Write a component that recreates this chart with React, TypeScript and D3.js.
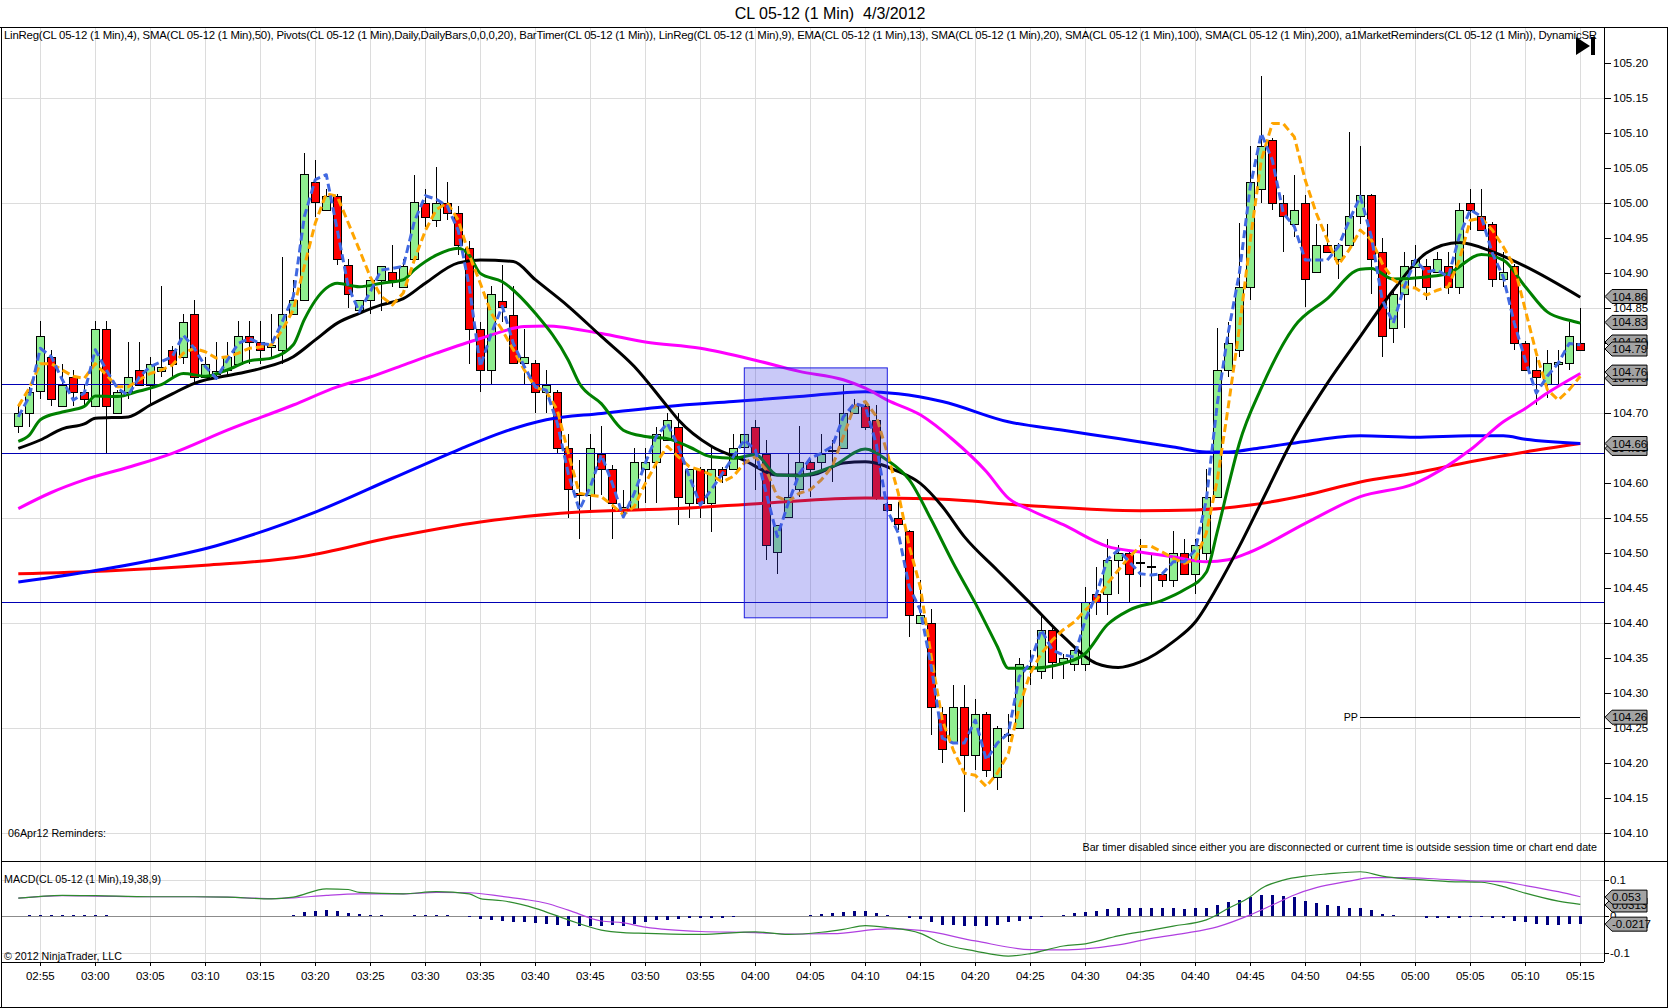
import React from "react";
import * as d3 from "d3";

const FONT = "'Liberation Sans', Arial, Helvetica, sans-serif";

const timeLabels = ["02:55","03:00","03:05","03:10","03:15","03:20","03:25","03:30","03:35","03:40","03:45","03:50","03:55","04:00","04:05","04:10","04:15","04:20","04:25","04:30","04:35","04:40","04:45","04:50","04:55","05:00","05:05","05:10","05:15"];
const firstLabelBar = 2;
const barsPerLabel = 5;

const priceTicks = [104.10,104.15,104.20,104.25,104.30,104.35,104.40,104.45,104.50,104.55,104.60,104.65,104.70,104.75,104.80,104.85,104.90,104.95,105.00,105.05,105.10,105.15,105.20];
const priceGrid = [104.10,104.25,104.40,104.55,104.70,104.85,105.00,105.15];
const macdTicks = [-0.1, 0, 0.1];

const opens = [104.681,104.700,104.731,104.780,104.710,104.751,104.730,104.710,104.820,104.700,104.730,104.761,104.740,104.760,104.790,104.780,104.841,104.751,104.755,104.761,104.770,104.810,104.801,104.794,104.790,104.841,104.861,105.030,104.990,105.010,104.911,104.847,104.861,104.890,104.901,104.880,104.920,105.000,104.975,105.000,104.985,104.935,104.820,104.761,104.860,104.840,104.771,104.771,104.730,104.730,104.650,104.585,104.582,104.641,104.620,104.563,104.563,104.620,104.630,104.661,104.680,104.571,104.620,104.571,104.620,104.620,104.651,104.680,104.641,104.501,104.551,104.591,104.630,104.630,104.645,104.650,104.700,104.710,104.690,104.570,104.550,104.531,104.400,104.400,104.270,104.230,104.280,104.211,104.270,104.180,104.240,104.250,104.335,104.331,104.390,104.344,104.341,104.341,104.441,104.441,104.490,104.500,104.485,104.480,104.470,104.461,104.500,104.470,104.500,104.580,104.761,104.790,104.880,105.020,105.090,105.000,104.970,105.000,104.901,104.940,104.920,104.940,104.981,105.011,104.930,104.821,104.870,104.908,104.910,104.901,104.910,104.880,105.000,104.981,104.970,104.891,104.910,104.800,104.761,104.741,104.770,104.771,104.800];
const highs = [104.709,104.737,104.831,104.790,104.770,104.761,104.740,104.831,104.831,104.733,104.801,104.801,104.780,104.881,104.795,104.841,104.861,104.780,104.801,104.801,104.831,104.831,104.831,104.841,104.922,104.890,105.071,105.061,105.020,105.012,104.920,104.861,104.890,104.910,104.940,104.920,105.040,105.020,105.051,105.030,104.995,104.945,104.830,104.881,104.911,104.881,104.820,104.775,104.761,104.733,104.670,104.632,104.670,104.681,104.625,104.590,104.650,104.650,104.680,104.700,104.700,104.620,104.622,104.650,104.622,104.670,104.670,104.690,104.661,104.540,104.642,104.681,104.632,104.670,104.661,104.740,104.720,104.715,104.711,104.572,104.573,104.533,104.461,104.420,104.280,104.311,104.311,104.291,104.272,104.252,104.270,104.350,104.361,104.411,104.392,104.355,104.365,104.451,104.480,104.520,104.511,104.502,104.520,104.499,104.472,104.531,104.520,104.520,104.620,104.821,104.830,104.971,105.081,105.181,105.092,105.011,105.040,105.011,104.970,104.970,104.942,105.101,105.081,105.013,104.950,104.872,104.930,104.940,104.920,104.930,104.930,105.000,105.020,105.020,104.972,104.930,104.912,104.802,104.780,104.790,104.790,104.830,104.850];
const lows = [104.671,104.680,104.720,104.710,104.708,104.710,104.710,104.708,104.642,104.698,104.720,104.740,104.710,104.751,104.751,104.770,104.740,104.751,104.747,104.751,104.770,104.770,104.770,104.780,104.770,104.840,104.861,104.980,104.990,104.911,104.850,104.847,104.841,104.845,104.880,104.880,104.920,104.965,104.965,104.975,104.925,104.770,104.730,104.741,104.830,104.771,104.741,104.700,104.700,104.641,104.550,104.520,104.561,104.582,104.520,104.549,104.560,104.571,104.571,104.661,104.540,104.550,104.550,104.530,104.600,104.618,104.642,104.590,104.490,104.470,104.549,104.580,104.580,104.620,104.601,104.648,104.698,104.675,104.575,104.558,104.532,104.380,104.398,104.240,104.199,104.228,104.130,104.190,104.180,104.161,104.230,104.248,104.311,104.320,104.320,104.320,104.331,104.331,104.411,104.411,104.441,104.430,104.451,104.430,104.451,104.451,104.468,104.441,104.490,104.578,104.751,104.780,104.861,105.000,104.990,104.930,104.951,104.851,104.899,104.928,104.891,104.938,104.970,104.870,104.780,104.800,104.821,104.880,104.861,104.899,104.870,104.870,104.961,104.959,104.880,104.880,104.790,104.759,104.711,104.721,104.741,104.761,104.788];
const closes = [104.700,104.730,104.810,104.720,104.740,104.730,104.720,104.820,104.710,104.730,104.751,104.740,104.770,104.765,104.770,104.830,104.751,104.770,104.760,104.780,104.810,104.801,104.790,104.796,104.841,104.861,105.041,105.001,105.010,104.920,104.870,104.861,104.890,104.910,104.890,104.910,105.001,104.980,105.000,104.985,104.940,104.820,104.761,104.870,104.851,104.771,104.780,104.730,104.740,104.650,104.591,104.583,104.650,104.620,104.571,104.565,104.630,104.630,104.670,104.690,104.580,104.620,104.571,104.620,104.611,104.650,104.670,104.642,104.511,104.540,104.580,104.630,104.620,104.641,104.647,104.700,104.710,104.680,104.580,104.561,104.541,104.411,104.411,104.280,104.220,104.280,104.211,104.270,104.190,104.250,104.241,104.341,104.338,104.390,104.344,104.350,104.361,104.430,104.430,104.490,104.500,104.470,104.487,104.481,104.461,104.500,104.470,104.511,104.580,104.761,104.800,104.880,105.030,105.081,105.000,104.981,104.990,104.891,104.940,104.930,104.940,104.981,105.011,104.920,104.810,104.870,104.910,104.918,104.880,104.920,104.880,104.990,104.990,104.961,104.891,104.901,104.800,104.761,104.751,104.771,104.772,104.810,104.790];

const linReg4 = [104.694,104.723,104.792,104.780,104.747,104.718,104.728,104.790,104.761,104.735,104.725,104.751,104.766,104.773,104.780,104.811,104.792,104.766,104.749,104.775,104.799,104.806,104.799,104.797,104.830,104.866,104.980,105.033,105.040,104.961,104.880,104.844,104.873,104.904,104.906,104.909,104.973,105.010,105.005,104.995,104.960,104.880,104.766,104.813,104.852,104.799,104.766,104.737,104.732,104.685,104.613,104.561,104.594,104.640,104.599,104.551,104.585,104.628,104.666,104.685,104.652,104.609,104.568,104.590,104.613,104.637,104.661,104.647,104.585,104.523,104.571,104.613,104.635,104.642,104.652,104.694,104.713,104.709,104.655,104.561,104.528,104.451,104.418,104.337,104.235,104.228,104.228,104.261,104.204,104.228,104.242,104.323,104.342,104.390,104.361,104.354,104.351,104.404,104.440,104.490,104.504,104.487,104.470,104.468,104.470,104.487,104.487,104.504,104.575,104.713,104.815,104.899,105.023,105.099,105.061,104.985,104.966,104.918,104.918,104.918,104.937,104.975,105.009,104.952,104.861,104.828,104.880,104.918,104.901,104.904,104.894,104.952,104.990,104.980,104.928,104.894,104.828,104.775,104.728,104.752,104.771,104.799,104.797];
const linReg9 = [104.709,104.735,104.770,104.770,104.761,104.752,104.749,104.770,104.754,104.737,104.737,104.747,104.756,104.761,104.768,104.785,104.792,104.787,104.778,104.780,104.785,104.792,104.794,104.797,104.818,104.847,104.909,104.971,105.013,105.009,104.971,104.933,104.894,104.866,104.854,104.871,104.918,104.960,104.990,105.000,104.975,104.925,104.885,104.842,104.818,104.790,104.761,104.737,104.730,104.704,104.642,104.585,104.582,104.580,104.568,104.554,104.566,104.599,104.628,104.652,104.637,104.623,104.618,104.611,104.601,104.609,104.628,104.637,104.618,104.580,104.573,104.585,104.590,104.604,104.623,104.666,104.709,104.716,104.695,104.642,104.585,104.509,104.451,104.351,104.261,104.218,104.185,104.182,104.166,104.185,104.213,104.280,104.328,104.356,104.375,104.390,104.401,104.418,104.432,104.456,104.475,104.494,104.509,104.509,104.501,104.492,104.485,104.490,104.528,104.604,104.709,104.820,104.947,105.061,105.113,105.113,105.094,105.032,104.985,104.947,104.911,104.933,104.961,104.947,104.913,104.890,104.880,104.878,104.868,104.875,104.880,104.918,104.975,104.978,104.961,104.937,104.909,104.847,104.785,104.733,104.718,104.733,104.752];

const sma200Pts: [number, number][] = [[0,104.470],[8,104.474],[17,104.482],[26,104.495],[34,104.522],[42,104.544],[51,104.558],[60,104.563],[68,104.571],[77,104.578],[83,104.577],[92,104.567],[102,104.560],[107,104.561],[112,104.568],[117,104.582],[122,104.601],[127,104.614],[132,104.630],[137,104.644],[142,104.656]];
const sma100Pts: [number, number][] = [[0,104.458],[8,104.477],[18,104.510],[27,104.558],[34,104.606],[40,104.647],[44,104.672],[48,104.690],[53,104.699],[59,104.709],[65,104.716],[71,104.723],[77,104.730],[80,104.727],[84,104.716],[90,104.687],[95,104.675],[100,104.663],[105,104.651],[108,104.644],[110,104.644],[113,104.650],[117,104.659],[122,104.667],[127,104.665],[132,104.667],[135,104.667],[137,104.662],[142,104.656]];
const sma50Pts: [number, number][] = [[0,104.563],[3,104.586],[6,104.604],[10,104.622],[14,104.642],[19,104.675],[25,104.711],[29,104.737],[32,104.751],[35,104.768],[38,104.785],[42,104.806],[46,104.823],[48,104.824],[53,104.813],[57,104.801],[62,104.792],[67,104.775],[71,104.759],[75,104.747],[77,104.735],[79,104.718],[82,104.697],[85,104.661],[88,104.616],[90,104.578],[92,104.561],[95,104.540],[99,104.509],[102,104.501],[105,104.494],[108,104.487],[110,104.490],[112,104.501],[117,104.542],[122,104.580],[127,104.599],[132,104.647],[135,104.687],[137,104.706],[139,104.728],[142,104.756]];
const sma20Pts: [number, number][] = [[0,104.649],[2,104.661],[4,104.677],[6,104.684],[7,104.692],[10,104.694],[12,104.711],[14,104.727],[16,104.742],[20,104.756],[22,104.763],[25,104.780],[27,104.804],[29,104.828],[31,104.842],[33,104.854],[35,104.863],[37,104.885],[40,104.914],[42,104.918],[45,104.916],[47,104.890],[50,104.852],[53,104.809],[56,104.766],[59,104.709],[60,104.690],[63,104.652],[66,104.632],[69,104.611],[72,104.611],[75,104.628],[77,104.630],[80,104.616],[82,104.599],[84,104.566],[86,104.523],[89,104.475],[92,104.428],[95,104.380],[98,104.342],[100,104.336],[102,104.344],[105,104.373],[107,104.401],[109,104.451],[111,104.509],[113,104.572],[116,104.666],[119,104.742],[122,104.809],[125,104.875],[128,104.928],[131,104.943],[134,104.930],[137,104.909],[142,104.865]];
const ema13Pts: [number, number][] = [[0,104.659],[1,104.668],[2,104.690],[4,104.701],[6,104.709],[7,104.724],[9,104.723],[11,104.731],[13,104.740],[15,104.756],[17,104.752],[19,104.761],[21,104.774],[23,104.778],[25,104.797],[26,104.833],[28,104.878],[29,104.885],[31,104.880],[33,104.885],[35,104.890],[36,104.904],[38,104.925],[40,104.935],[41,104.925],[42,104.899],[44,104.887],[47,104.842],[50,104.775],[51,104.742],[53,104.713],[55,104.675],[57,104.666],[59,104.663],[61,104.651],[63,104.637],[65,104.635],[67,104.640],[69,104.611],[71,104.610],[74,104.623],[77,104.648],[79,104.632],[81,104.604],[83,104.547],[85,104.485],[87,104.428],[89,104.366],[90,104.335],[92,104.335],[95,104.342],[97,104.356],[99,104.397],[101,104.418],[104,104.432],[106,104.447],[108,104.472],[109,104.530],[110,104.595],[111,104.656],[113,104.735],[116,104.823],[119,104.863],[122,104.905],[123,104.906],[125,104.891],[128,104.894],[130,104.899],[133,104.926],[135,104.918],[137,104.880],[139,104.844],[141,104.832],[142,104.828]];

const macdPts: [number, number][] = [[0,0.050],[4,0.058],[7,0.057],[12,0.054],[16,0.054],[19,0.053],[23,0.048],[25,0.053],[28,0.076],[30,0.074],[31,0.066],[35,0.062],[38,0.068],[41,0.062],[42,0.049],[44,0.043],[47,0.022],[50,-0.010],[53,-0.038],[55,-0.045],[57,-0.047],[62,-0.050],[67,-0.043],[70,-0.050],[73,-0.044],[75,-0.036],[77,-0.026],[79,-0.031],[82,-0.047],[84,-0.076],[87,-0.096],[90,-0.110],[92,-0.103],[95,-0.082],[97,-0.076],[100,-0.054],[103,-0.038],[105,-0.027],[108,-0.010],[110,0.022],[112,0.054],[113,0.077],[115,0.100],[117,0.111],[119,0.117],[122,0.123],[124,0.111],[126,0.104],[128,0.100],[130,0.096],[133,0.094],[135,0.082],[137,0.064],[140,0.042],[142,0.033]];
const signalPts: [number, number][] = [[0,0.050],[4,0.057],[7,0.056],[12,0.054],[16,0.054],[19,0.053],[23,0.049],[25,0.051],[28,0.058],[31,0.062],[35,0.062],[38,0.066],[41,0.065],[44,0.055],[46,0.047],[48,0.036],[50,0.017],[53,-0.013],[55,-0.018],[57,-0.030],[62,-0.042],[67,-0.045],[70,-0.049],[74,-0.048],[79,-0.035],[82,-0.039],[87,-0.068],[92,-0.092],[95,-0.093],[97,-0.090],[100,-0.079],[103,-0.061],[106,-0.047],[109,-0.029],[112,0.004],[114,0.031],[116,0.059],[118,0.079],[121,0.097],[123,0.107],[126,0.107],[129,0.103],[132,0.098],[135,0.095],[137,0.085],[140,0.068],[142,0.054]];
const macdHist = [0,0.004,0.004,0.004,0.004,0.004,0.004,0.004,0.004,0,0,0,0,0,0,0.002,0,0,0.002,0.002,0,0,0,0,0,0.003,0.013,0.016,0.018,0.015,0.009,0.006,0.004,0.003,0,0,0.003,0.003,0.003,0.003,0.002,-0.003,-0.007,-0.010,-0.012,-0.015,-0.017,-0.019,-0.021,-0.024,-0.026,-0.027,-0.026,-0.026,-0.025,-0.027,-0.021,-0.017,-0.011,-0.009,-0.008,-0.006,-0.006,-0.005,-0.004,-0.002,-0.001,-0.001,-0.001,-0.001,-0.001,0,0.003,0.006,0.010,0.013,0.015,0.016,0.008,0.004,0.001,-0.004,-0.008,-0.015,-0.024,-0.024,-0.026,-0.026,-0.026,-0.024,-0.017,-0.013,-0.007,-0.002,0.001,0.003,0.008,0.012,0.016,0.019,0.022,0.022,0.022,0.022,0.022,0.022,0.019,0.022,0.022,0.030,0.040,0.045,0.054,0.059,0.058,0.056,0.052,0.042,0.036,0.031,0.029,0.023,0.023,0.017,0.005,0.003,0,-0.001,-0.004,-0.004,-0.006,-0.004,-0.002,-0.002,-0.004,-0.006,-0.012,-0.017,-0.020,-0.023,-0.023,-0.020,-0.022];

const hLines = [104.741, 104.642, 104.429];
const pivotPP = 104.265;
const boxBars = [66, 79];
const boxPrices = [104.407, 104.764];

const priceTags: [number, string][] = [[104.866,"104.86"],[104.829,"104.83"],[104.801,"104.80"],[104.791,"104.79"],[104.749,"104.75"],[104.758,"104.76"],[104.649,"104.65"],[104.656,"104.66"],[104.265,"104.26"]];
const macdTags: [number, string][] = [[0.0313,"0.0313"],[0.053,"0.053"],[-0.0217,"-0.0217"]];

const legendText = "LinReg(CL 05-12 (1 Min),4), SMA(CL 05-12 (1 Min),50), Pivots(CL 05-12 (1 Min),Daily,DailyBars,0,0,0,20), BarTimer(CL 05-12 (1 Min)), LinReg(CL 05-12 (1 Min),9), EMA(CL 05-12 (1 Min),13), SMA(CL 05-12 (1 Min),20), SMA(CL 05-12 (1 Min),100), SMA(CL 05-12 (1 Min),200), a1MarketReminders(CL 05-12 (1 Min)), DynamicSR";
const titleText = "CL 05-12 (1 Min)\u00a0\u00a04/3/2012";

const W = 1668, H = 1008;
const PL = 1, PR = 1604, PT = 27, PB = 861, MB = 962;

export default function App() {
  const n = closes.length;
  const x = d3.scaleLinear().domain([0, n - 1]).range([18.3, 1580.3]);
  const y = d3.scaleLinear().domain([104.1, 105.2]).range([832.7, 62.7]);
  const ym = d3.scaleLinear().domain([-0.1, 0.1]).range([952.5, 880.1]);

  const smooth = d3.line<[number, number]>().x(d => x(d[0])).y(d => y(d[1])).curve(d3.curveMonotoneX);
  const straight = d3.line<number>().x((_, i) => x(i)).y(d => y(d));
  const msmooth = d3.line<[number, number]>().x(d => x(d[0])).y(d => ym(d[1])).curve(d3.curveMonotoneX);

  const r = (v: number) => Math.round(v) + 0.5;
  const fs = 10.7;

  const tag = (yy: number, label: string, key: string) => (
    <g key={key}>
      <path d={`M${PR + 1},${yy} L${PR + 8},${yy - 7} L${1647},${yy - 7} L${1647},${yy + 7} L${PR + 8},${yy + 7} Z`} fill="#a3a3a3" stroke="#000" strokeWidth={1} />
      <text x={1612} y={yy + 4} fontSize={11.5} fill="#000">{label}</text>
    </g>
  );

  return (
    <svg width={W} height={H} style={{ position: "absolute", left: 0, top: 0, background: "#fff" }} fontFamily={FONT}>
      <defs>
        <clipPath id="mainClip"><rect x={PL} y={PT} width={PR - PL} height={PB - PT} /></clipPath>
        <clipPath id="macdClip"><rect x={PL} y={PB} width={PR - PL} height={MB - PB} /></clipPath>
      </defs>
      <rect x={0} y={0} width={W} height={H} fill="#fff" />
      <text x={830} y={19} fontSize={16} textAnchor="middle" fill="#000">{titleText}</text>

      {/* grids */}
      <g stroke="#dcdcdc" strokeWidth={1} shapeRendering="crispEdges">
        {timeLabels.map((_, k) => {
          const xx = r(x(firstLabelBar + k * barsPerLabel));
          return <line key={"vg" + k} x1={xx} x2={xx} y1={PT} y2={MB} />;
        })}
        {priceGrid.map(p => <line key={"hg" + p} x1={PL} x2={PR} y1={r(y(p))} y2={r(y(p))} />)}
        {[-0.1, 0.1].map(v => <line key={"mg" + v} x1={PL} x2={PR} y1={r(ym(v))} y2={r(ym(v))} />)}
      </g>

      <g clipPath="url(#mainClip)">
        {/* candles */}
        <g shapeRendering="crispEdges">
          {closes.map((c, i) => {
            const o = opens[i];
            const xx = Math.round(x(i));
            const top = Math.round(y(Math.max(o, c)));
            const bot = Math.round(y(Math.min(o, c)));
            const up = c >= o;
            return (
              <g key={"c" + i}>
                <line x1={xx + 0.5} x2={xx + 0.5} y1={y(highs[i])} y2={y(lows[i])} stroke="#000" strokeWidth={1} />
                {bot - top < 1 ? (
                  <line x1={xx - 4} x2={xx + 5} y1={top + 0.5} y2={top + 0.5} stroke="#000" strokeWidth={1} />
                ) : (
                  <rect x={xx - 4 + 0.5} y={top + 0.5} width={8} height={bot - top} fill={up ? "#90ee90" : "#ff0000"} stroke="#000" strokeWidth={1} />
                )}
              </g>
            );
          })}
        </g>

        {/* horizontal lines */}
        <g stroke="#0000b4" strokeWidth={1} shapeRendering="crispEdges">
          {hLines.map(p => <line key={"hl" + p} x1={PL} x2={PR} y1={r(y(p))} y2={r(y(p))} />)}
        </g>
        <line x1={1360} x2={x(n - 1)} y1={r(y(pivotPP))} y2={r(y(pivotPP))} stroke="#000" strokeWidth={1} shapeRendering="crispEdges" />
        <text x={1358} y={y(pivotPP) + 4} fontSize={fs} textAnchor="end" fill="#000">PP</text>

        {/* indicators */}
        <g fill="none" strokeWidth={3} strokeLinejoin="round">
          <path d={smooth(sma200Pts) || ""} stroke="#ff0000" />
          <path d={smooth(sma100Pts) || ""} stroke="#0000ff" />
          <path d={smooth(sma50Pts) || ""} stroke="#ff00ff" />
          <path d={smooth(sma20Pts) || ""} stroke="#000000" />
          <path d={smooth(ema13Pts) || ""} stroke="#008000" />
          <path d={straight(linReg9) || ""} stroke="#ffa500" strokeDasharray="8,4" />
          <path d={straight(linReg4) || ""} stroke="#4169e1" strokeDasharray="8,4" />
        </g>

        {/* box */}
        <rect x={x(boxBars[0])} y={y(boxPrices[1])} width={x(boxBars[1]) - x(boxBars[0])} height={y(boxPrices[0]) - y(boxPrices[1])} fill="#3c3ce6" fillOpacity={0.28} stroke="#1e1ee0" strokeWidth={1} />

        <text x={4} y={39} fontSize={11.4} textLength={1593} lengthAdjust="spacing" fill="#000">{legendText}</text>
        <path d="M1576,37 L1576,55 L1590,46 Z" fill="#000" />
        <rect x={1591} y={37} width={4} height={18} fill="#000" />
        <text x={8} y={837} fontSize={fs} fill="#000">06Apr12 Reminders:</text>
        <text x={1597} y={851} fontSize={fs} textAnchor="end" fill="#000">Bar timer disabled since either you are disconnected or current time is outside session time or chart end date</text>
      </g>

      {/* MACD panel */}
      <g clipPath="url(#macdClip)">
        <line x1={PL} x2={PR} y1={r(ym(0))} y2={r(ym(0))} stroke="#8c8c8c" strokeWidth={1} shapeRendering="crispEdges" />
        <g stroke="#000080" strokeWidth={3} shapeRendering="crispEdges">
          {macdHist.map((v, i) => Math.abs(v) < 0.0015 ? null : (
            <line key={"h" + i} x1={Math.round(x(i)) + 0.5} x2={Math.round(x(i)) + 0.5} y1={ym(0)} y2={ym(v)} />
          ))}
        </g>
        <path d={msmooth(signalPts) || ""} fill="none" stroke="#b040e0" strokeWidth={1.2} />
        <path d={msmooth(macdPts) || ""} fill="none" stroke="#2e8b2e" strokeWidth={1.2} />
        <text x={4} y={883} fontSize={fs} fill="#000">MACD(CL 05-12 (1 Min),19,38,9)</text>
        <text x={4} y={960} fontSize={fs} fill="#000">© 2012 NinjaTrader, LLC</text>
      </g>

      {/* frames */}
      <g stroke="#000" strokeWidth={1} shapeRendering="crispEdges" fill="none">
        <line x1={0} x2={W} y1={PT + 0.5} y2={PT + 0.5} />
        <line x1={PL + 0.5} x2={PL + 0.5} y1={PT} y2={H - 1} />
        <line x1={W - 0.5} x2={W - 0.5} y1={PT} y2={H - 1} />
        <line x1={0} x2={W} y1={H - 0.5} y2={H - 0.5} />
        <line x1={PR + 0.5} x2={PR + 0.5} y1={PT} y2={MB} />
        <line x1={PL} x2={W} y1={PB + 0.5} y2={PB + 0.5} />
        <line x1={PL} x2={PR} y1={MB + 0.5} y2={MB + 0.5} />
      </g>

      {/* right price axis */}
      <g fontSize={11.5} fill="#000">
        {priceTicks.map(p => (
          <g key={"pt" + p}>
            <line x1={PR} x2={PR + 7} y1={r(y(p))} y2={r(y(p))} stroke="#000" shapeRendering="crispEdges" />
            <text x={1613} y={y(p) + 4}>{p.toFixed(2)}</text>
          </g>
        ))}
        {macdTicks.map(v => (
          <g key={"mt" + v}>
            <line x1={PR} x2={PR + 5} y1={r(ym(v))} y2={r(ym(v))} stroke="#000" shapeRendering="crispEdges" />
            <text x={1610} y={ym(v) + 4}>{v === 0 ? "0" : String(v)}</text>
          </g>
        ))}
      </g>
      {priceTags.map(([p, l], k) => tag(y(p), l, "ptag" + k))}
      {macdTags.map(([v, l], k) => tag(ym(v), l, "mtag" + k))}

      {/* time axis */}
      <g fontSize={11.5} fill="#000" textAnchor="middle">
        {timeLabels.map((lab, k) => {
          const xx = x(firstLabelBar + k * barsPerLabel);
          return (
            <g key={"tl" + k}>
              <line x1={r(xx)} x2={r(xx)} y1={MB} y2={MB + 4} stroke="#000" shapeRendering="crispEdges" />
              <text x={xx} y={980}>{lab}</text>
            </g>
          );
        })}
      </g>
    </svg>
  );
}
